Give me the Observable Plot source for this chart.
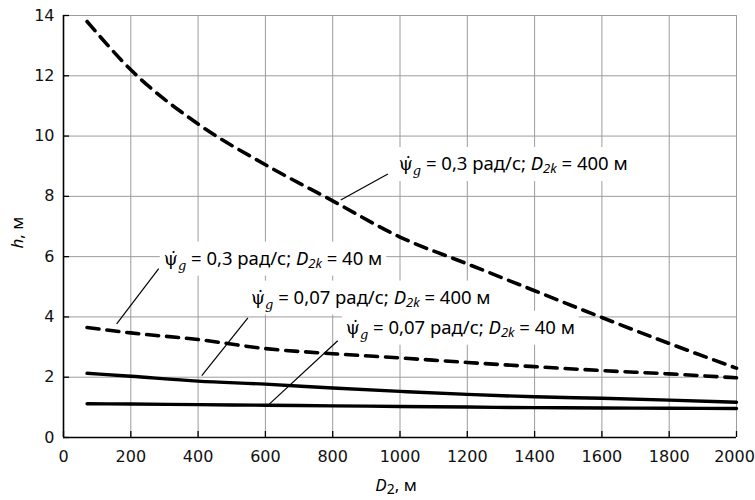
<!DOCTYPE html>
<html><head><meta charset="utf-8">
<script src="https://cdn.jsdelivr.net/npm/d3@7"></script>
<script src="https://cdn.jsdelivr.net/npm/@observablehq/plot@0.6"></script>
<style>body{margin:0;background:#fff} #chart svg{display:block}</style>
</head><body><div id="chart"></div>
<script>
// ---- data ----
const D2 = [70, 200, 400, 600, 800, 1000, 1200, 1400, 1600, 1800, 2000];
const hPsi03D400 = [13.8, 12.2, 10.4, 9.05, 7.85, 6.65, 5.76, 4.87, 3.98, 3.12, 2.3];
const hPsi03D40 = [3.65, 3.47, 3.25, 2.95, 2.78, 2.64, 2.49, 2.35, 2.22, 2.11, 1.98];
const hPsi007D400 = [2.13, 2.03, 1.87, 1.77, 1.64, 1.53, 1.43, 1.35, 1.30, 1.24, 1.17];
const hPsi007D40 = [1.12, 1.11, 1.09, 1.07, 1.05, 1.03, 1.01, 0.99, 0.98, 0.97, 0.96];

const seriesPsi = ["0,3", "0,3", "0,07", "0,07"];
const seriesD2k = ["400", "40", "400", "40"];
const seriesDashed = [true, true, false, false];
const seriesValues = [hPsi03D400, hPsi03D40, hPsi007D400, hPsi007D40];

const xTicks = [0, 200, 400, 600, 800, 1000, 1200, 1400, 1600, 1800, 2000];
const yTicks = [0, 2, 4, 6, 8, 10, 12, 14];

// label anchors (data coordinates) and leader lines
const labelX = [996, 298, 557, 839];
const labelY = [9.07, 5.93, 4.64, 3.64];
const leaderX1 = [824, 158, 411, 610];
const leaderY1 = [7.88, 3.77, 2.05, 1.09];
const leaderX2 = [964, 283, 548, 815];
const leaderY2 = [8.74, 5.60, 3.97, 3.21];

const xTitle = "D|2|, м";
const yTitle = "h|, м";

// ---- build tables ----
const rows = [];
seriesValues.forEach((vals, s) => {
  vals.forEach((h, i) => rows.push({D2: D2[i], h, key: s, dashed: seriesDashed[s]}));
});
const labels = seriesPsi.map((p, i) => ({x: labelX[i], y: labelY[i], text: "L|" + p + "|" + seriesD2k[i]}));
const leaders = leaderX1.map((x1, i) => ({x1, y1: leaderY1[i], x2: leaderX2[i], y2: leaderY2[i]}));

const labelFont = "Noto Sans, Open Sans, sans-serif";
const serif = "DejaVu Serif, Liberation Serif, serif";

const chart = Plot.plot({
  width: 755, height: 500,
  marginLeft: 63, marginRight: 19, marginTop: 15, marginBottom: 63,
  x: {domain: [0, 2000], label: null},
  y: {domain: [0, 14], label: null},
  style: {fontFamily: "DejaVu Sans, sans-serif", fontSize: "16px", color: "#111", background: "#fff"},
  marks: [
    Plot.gridX(xTicks, {stroke: "#9c9c9c", strokeOpacity: 1, strokeWidth: 1}),
    Plot.gridY(yTicks, {stroke: "#9c9c9c", strokeOpacity: 1, strokeWidth: 1}),
    Plot.ruleX(xTicks, {y1: 0, y2: 0.2, stroke: "#000", strokeWidth: 1.3}),
    Plot.ruleY(yTicks, {x1: 0, x2: 18, stroke: "#000", strokeWidth: 1.3}),
    Plot.ruleX([0], {stroke: "#000", strokeWidth: 1.6}),
    Plot.ruleY([0], {stroke: "#000", strokeWidth: 1.6}),
    Plot.axisX({ticks: xTicks, tickSize: 0, tickPadding: 13, label: null, tickFormat: d => String(d)}),
    Plot.axisY({ticks: yTicks, tickSize: 0, tickPadding: 9, label: null, tickFormat: d => String(d)}),
    Plot.line(rows.filter(d => d.dashed), {x: "D2", y: "h", z: "key", stroke: "#000", strokeWidth: 3.6, strokeDasharray: "12,8", curve: "monotone-x"}),
    Plot.line(rows.filter(d => !d.dashed), {x: "D2", y: "h", z: "key", stroke: "#000", strokeWidth: 3.4, curve: "monotone-x"}),
    Plot.text(labels, {x: "x", y: "y", text: "text", textAnchor: "start", fill: "#000", fontSize: 18.5}),
    Plot.link(leaders, {x1: "x1", y1: "y1", x2: "x2", y2: "y2", stroke: "#000", strokeWidth: 1.2}),
    Plot.text([xTitle], {frameAnchor: "bottom", dy: 53, dx: -4, fill: "#000", fontSize: 17}),
    Plot.text([yTitle], {frameAnchor: "left", dx: -46, dy: 22, rotate: -90, fill: "#000", fontSize: 17})
  ]
});

const svg = d3.select(chart);
const curveLabels = [];
svg.selectAll("text").each(function() {
  const t = d3.select(this);
  const s = t.text();
  if (s === "2000") { t.attr("dx", -2); return; }
  if (!s.includes("|")) return;
  const parts = s.split("|");
  t.text(null).attr("font-family", labelFont);
  if (parts[0] === "L") {
    curveLabels.push(this);
    const psi = parts[1], d2k = parts[2];
    t.append("tspan").attr("font-family", serif).attr("font-size", 18).text("\u03C8\u0307");
    t.append("tspan").attr("font-family", serif).attr("font-style", "italic").attr("font-size", 13).attr("dy", 5).text("g");
    t.append("tspan").attr("dy", -5).text(" = " + psi + " рад/с; ");
    t.append("tspan").attr("font-style", "italic").text("D");
    t.append("tspan").attr("font-style", "italic").attr("font-size", 13).attr("dy", 3).text("2k");
    t.append("tspan").attr("dy", -3).text(" = " + d2k + " м");
  } else {
    t.append("tspan").attr("font-style", "italic").text(parts[0]);
    if (parts.length === 3) {
      t.append("tspan").attr("font-size", 14).attr("dy", 3).text(parts[1]);
      t.append("tspan").attr("dy", -3).text(parts[2]);
    } else {
      t.append("tspan").text(parts[1]);
    }
  }
});

document.getElementById("chart").appendChild(chart);

// white boxes behind curve labels (above the grid, below the curves)
const svgBox = chart.getBoundingClientRect();
const firstLine = chart.querySelector('g[aria-label="line"]');
const boxes = document.createElementNS("http://www.w3.org/2000/svg", "g");
chart.insertBefore(boxes, firstLine);
curveLabels.forEach(el => {
  const b = el.getBoundingClientRect();
  d3.select(boxes).append("rect")
    .attr("x", b.left - svgBox.left - 4)
    .attr("y", b.top - svgBox.top - 3)
    .attr("width", b.width + 8)
    .attr("height", b.height + 6)
    .attr("fill", "white");
});
</script>
</body></html>
